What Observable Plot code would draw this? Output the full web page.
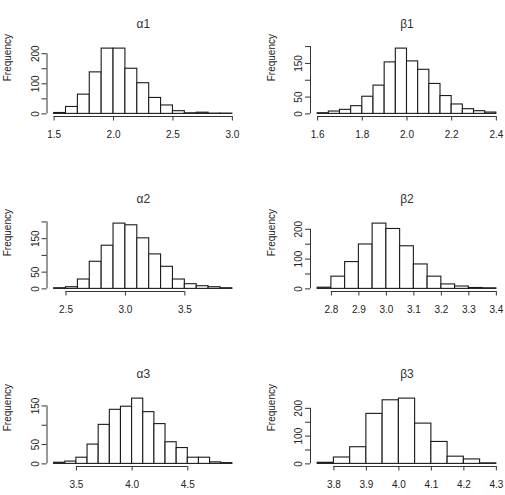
<!DOCTYPE html>
<html>
<head>
<meta charset="utf-8">
<script src="https://cdn.jsdelivr.net/npm/d3@7"></script>
<script src="https://cdn.jsdelivr.net/npm/@observablehq/plot@0.6"></script>
<style>
  html, body { margin: 0; padding: 0; background: white; }
  #grid { position: relative; width: 505px; height: 495px; overflow: hidden; background: white; }
  .cell { position: absolute; }
</style>
</head>
<body>
<div id="grid"></div>
<script>
// Posterior draws of the six parameters, binned as histograms (counts per bin).
const titles = ["α1", "β1", "α2", "β2", "α3", "β3"];
const binStarts = [1.5, 1.6, 2.4, 2.75, 3.3, 3.75];
const binWidths = [0.1, 0.05, 0.1, 0.05, 0.1, 0.05];

const alpha1 = [3, 23, 64, 138, 217, 217, 150, 102, 53, 28, 9, 2, 4, 1, 1];
const beta1 = [2, 7, 12, 23, 51, 84, 153, 194, 156, 131, 89, 53, 28, 14, 8, 4];
const alpha2 = [2, 5, 28, 81, 129, 195, 190, 151, 103, 66, 28, 14, 8, 5, 2];
const beta2 = [4, 41, 90, 149, 219, 201, 143, 82, 41, 15, 8, 3, 2];
const alpha3 = [3, 6, 16, 50, 101, 140, 148, 169, 134, 103, 56, 41, 16, 16, 4, 2];
const beta3 = [4, 23, 60, 180, 229, 235, 145, 79, 26, 16, 2];

const xTickValues = [
  [1.5, 2.0, 2.5, 3.0],
  [1.6, 1.8, 2.0, 2.2, 2.4],
  [2.5, 3.0, 3.5],
  [2.8, 2.9, 3.0, 3.1, 3.2, 3.3, 3.4],
  [3.5, 4.0, 4.5],
  [3.8, 3.9, 4.0, 4.1, 4.2, 4.3]
];
const yTickValues = [
  [0, 50, 100, 150, 200],
  [0, 50, 100, 150, 200],
  [0, 50, 100, 150, 200],
  [0, 50, 100, 150, 200],
  [0, 50, 100, 150],
  [0, 50, 100, 150, 200]
];
const yTickLabels = [
  [0, 100, 200],
  [0, 50, 150],
  [0, 50, 150],
  [0, 100, 200],
  [0, 50, 150],
  [0, 100, 200]
];

const countsList = [alpha1, beta1, alpha2, beta2, alpha3, beta3];
const ink = "#222";

function panel(i) {
  const counts = countsList[i];
  const start = binStarts[i], w = binWidths[i];
  const bins = counts.map((n, k) => ({
    lo: +(start + k * w).toFixed(4),
    hi: +(start + (k + 1) * w).toFixed(4),
    n
  }));
  const lo = bins[0].lo, hi = bins[bins.length - 1].hi;
  const pad = 0.04 * (hi - lo);
  const ymax = d3.max(counts);
  const ylo = -0.04 * ymax, yhi = 1.04 * ymax;
  const xt = xTickValues[i], yt = yTickValues[i];
  const right = i % 2 === 1;

  return Plot.plot({
    width: right ? 253 : 252,
    height: 145,
    marginLeft: right ? 58 : 46.5,
    marginRight: right ? 2 : 13,
    marginTop: 45.5,
    marginBottom: 29,
    style: {fontFamily: "'Liberation Sans', Arial, sans-serif", fontSize: "10px", color: ink, background: "white"},
    x: {domain: [lo - pad, hi + pad]},
    y: {domain: [ylo, yhi]},
    marks: [
      Plot.rectY(bins, {x1: "lo", x2: "hi", y1: () => 0, y2: "n", fill: "white", stroke: "#1a1a1a", strokeWidth: 1.1}),
      Plot.axisX(xt, {tickSize: 4.5, fill: "none", label: null, stroke: "#333"}),
      Plot.axisY(yt, {tickSize: 5, fill: "none", label: null, stroke: "#333"}),
      // axis lines span only from the first to the last tick
      Plot.ruleY([{y: ylo, a: xt[0], b: xt[xt.length - 1]}], {y: "y", x1: "a", x2: "b", stroke: "#333"}),
      Plot.ruleX([{x: lo - pad, a: yt[0], b: yt[yt.length - 1]}], {x: "x", y1: "a", y2: "b", stroke: "#333"}),
      Plot.text(xt, {x: (d) => d, frameAnchor: "bottom", dy: 17.8, lineAnchor: "middle", text: (d) => d.toFixed(1), fill: ink}),
      Plot.text(yTickLabels[i], {y: (d) => d, frameAnchor: "left", dx: -11.5, rotate: -90, textAnchor: "middle", lineAnchor: "middle", text: (d) => String(d), fill: ink}),
      Plot.text(["Frequency"], {frameAnchor: "left", dx: -39, rotate: -90, lineAnchor: "middle", text: (d) => d, fill: ink}),
      Plot.text([titles[i]], {frameAnchor: "top", dy: -21.5, lineAnchor: "middle", fontSize: 12, text: (d) => d, fill: "#333"})
    ]
  });
}

const grid = document.getElementById("grid");
titles.forEach((_, i) => {
  const cell = document.createElement("div");
  cell.className = "cell";
  cell.style.left = (i % 2 === 1 ? 252 : 0) + "px";
  cell.style.top = (Math.floor(i / 2) * 175) + "px";
  cell.appendChild(panel(i));
  grid.appendChild(cell);
});
</script>
</body>
</html>
